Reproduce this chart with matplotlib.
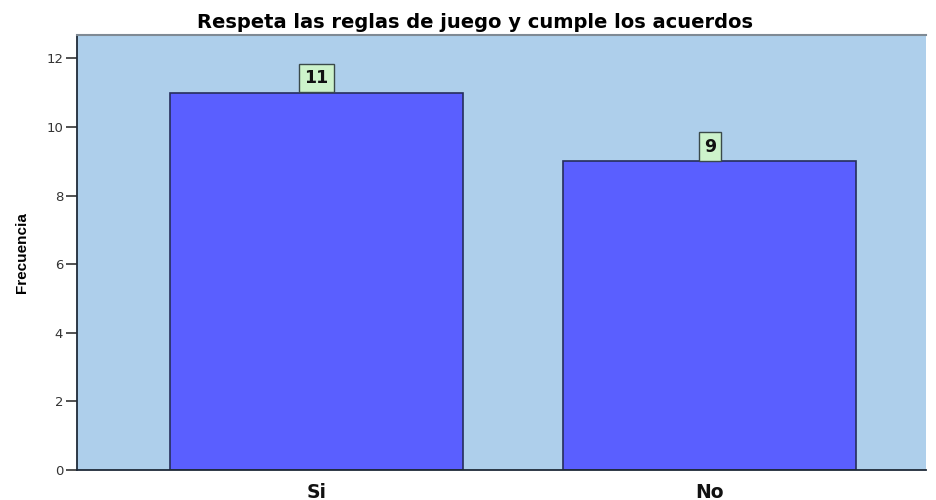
import matplotlib.pyplot as plt

categorias = ["Si", "No"]
frecuencias = [11, 9]
ticks_y = [0, 2, 4, 6, 8, 10, 12]

plt.rcParams["font.family"] = ["DejaVu Sans"]

fig = plt.figure(figsize=(9.36, 5), dpi=100)
ax = fig.add_axes([0.0823, 0.06, 0.9067, 0.87])
ax.set_facecolor("#AECFEB")

pos = list(range(len(categorias)))
barras = ax.bar(pos, frecuencias, width=0.745, color="#5A5FFF",
                edgecolor="#262E5C", linewidth=1.2, zorder=2)

for x, v in zip(pos, frecuencias):
    ax.annotate(str(v), (x, v), xytext=(0, 10.5), textcoords="offset points",
                ha="center", va="center", fontsize=12.5, fontweight="bold",
                color="#111111", zorder=4,
                bbox=dict(boxstyle="square,pad=0.3", fc="#CDF3CB", ec="#3A4A4A", lw=1))

ax.set_xlim(-0.609, 1.549)
ax.set_ylim(0, 12.68)
ax.set_yticks(ticks_y)
ax.set_yticklabels([str(t) for t in ticks_y], fontsize=9.5, color="#333333")
ax.tick_params(axis="y", length=8, width=1.2, color="#333333", pad=2)
ax.set_xticks(pos)
ax.set_xticklabels(categorias, fontsize=13.5, fontweight="bold", color="#111111")
ax.tick_params(axis="x", length=0, pad=9)

for lado in ["left", "bottom"]:
    ax.spines[lado].set_color("#1F2A38")
    ax.spines[lado].set_linewidth(1.3)
ax.spines["top"].set_color("#7F8A94")
ax.spines["top"].set_linewidth(1.5)
ax.spines["right"].set_visible(False)

ax.set_ylabel("Frecuencia", family=["Liberation Sans Narrow", "Liberation Sans"],
              fontsize=11, fontweight="bold", labelpad=12)
fig.text(0.5075, 0.955, "Respeta las reglas de juego y cumple los acuerdos",
         ha="center", va="center", fontsize=14, fontweight="bold")

fig.savefig("out.png", dpi=100)
